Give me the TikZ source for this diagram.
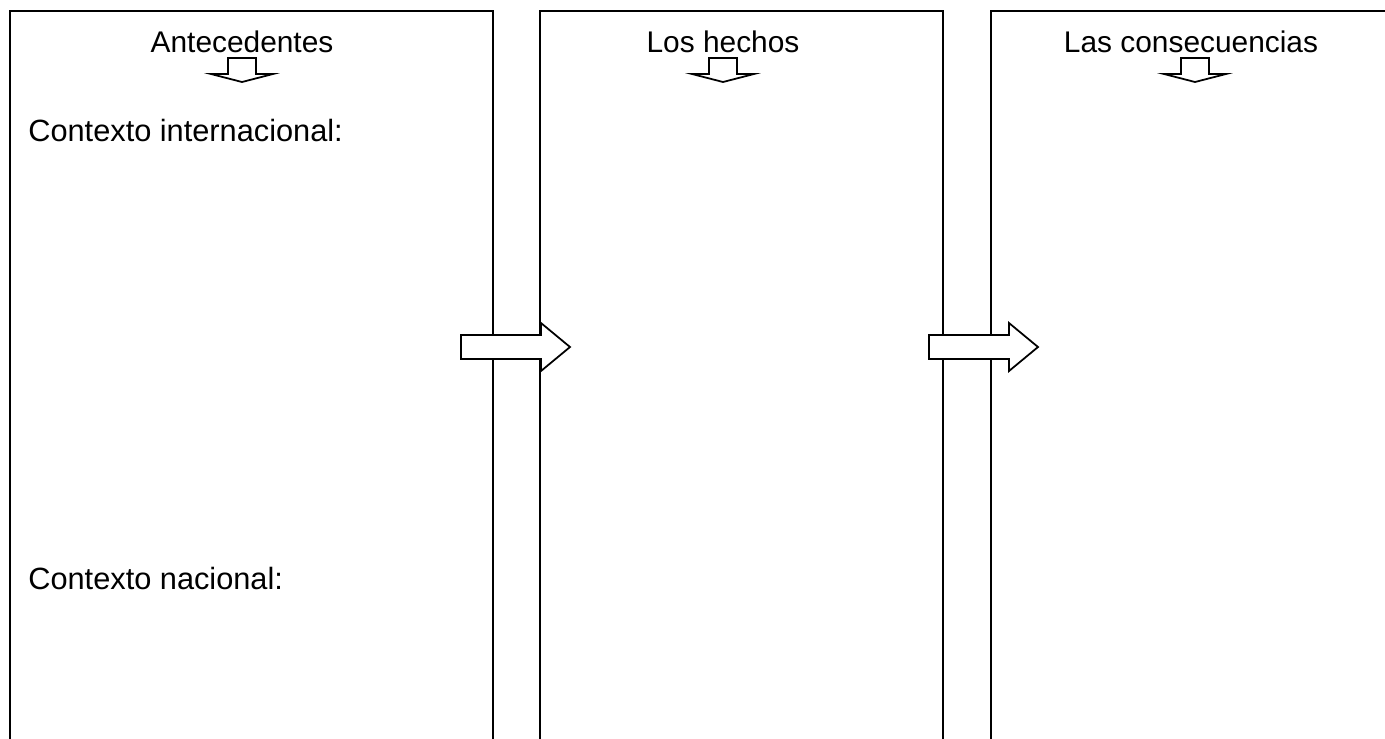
\documentclass[tikz,border=0pt]{standalone}
\usepackage{fontspec}
\setmainfont{Liberation Sans}
\usetikzlibrary{positioning}
\tikzset{
    panel/.style={rectangle, draw=black, line width=1pt, anchor=north west,
                  minimum height=16cm, inner sep=0pt},
    title/.style={anchor=base, inner sep=0pt, font=\fontsize{17}{20}\selectfont},
    label/.style={anchor=base west, inner sep=0pt, font=\fontsize{17.5}{20}\selectfont},
    blockarrow/.style={draw=black, fill=white, line width=1pt, line join=miter},
}

\begin{document}
\begin{tikzpicture}[x=0.02cm, y=-0.02cm]
            \clip (0,0) rectangle (1385,738);
            \node[panel, minimum width=9.66cm] (antes) at (9,10) {};
            \node[panel, minimum width=8.06cm] (hechos) at (539,10) {};
            \node[panel, minimum width=8.06cm] (consec) at (990,10) {};
            
            \node[title] (tantes) at (242,52) {Antecedentes};
            \node[title] (thechos) at (723,52) {Los hechos};
            \node[title] (tconsec) at (1191,52) {Las consecuencias};
            
            \node[label] (inter) at (28,141) {Contexto internacional:};
            \node[label] (nacio) at (28,589) {Contexto nacional:};
            
            % flechas hacia abajo
            \foreach \cx in {242,723,1195}
                \draw[blockarrow] (\cx-14,58) -- (\cx+14,58) -- (\cx+14,74) -- (\cx+31,74)
                    -- (\cx,82) -- (\cx-31,74) -- (\cx-14,74) -- cycle;
            
            % flechas entre columnas
            \foreach \ax in {461,929}
                \draw[blockarrow] (\ax,335) -- (\ax+80,335) -- (\ax+80,323) -- (\ax+109,347)
                    -- (\ax+80,371) -- (\ax+80,359) -- (\ax,359) -- cycle;
        \end{tikzpicture}
\end{document}
